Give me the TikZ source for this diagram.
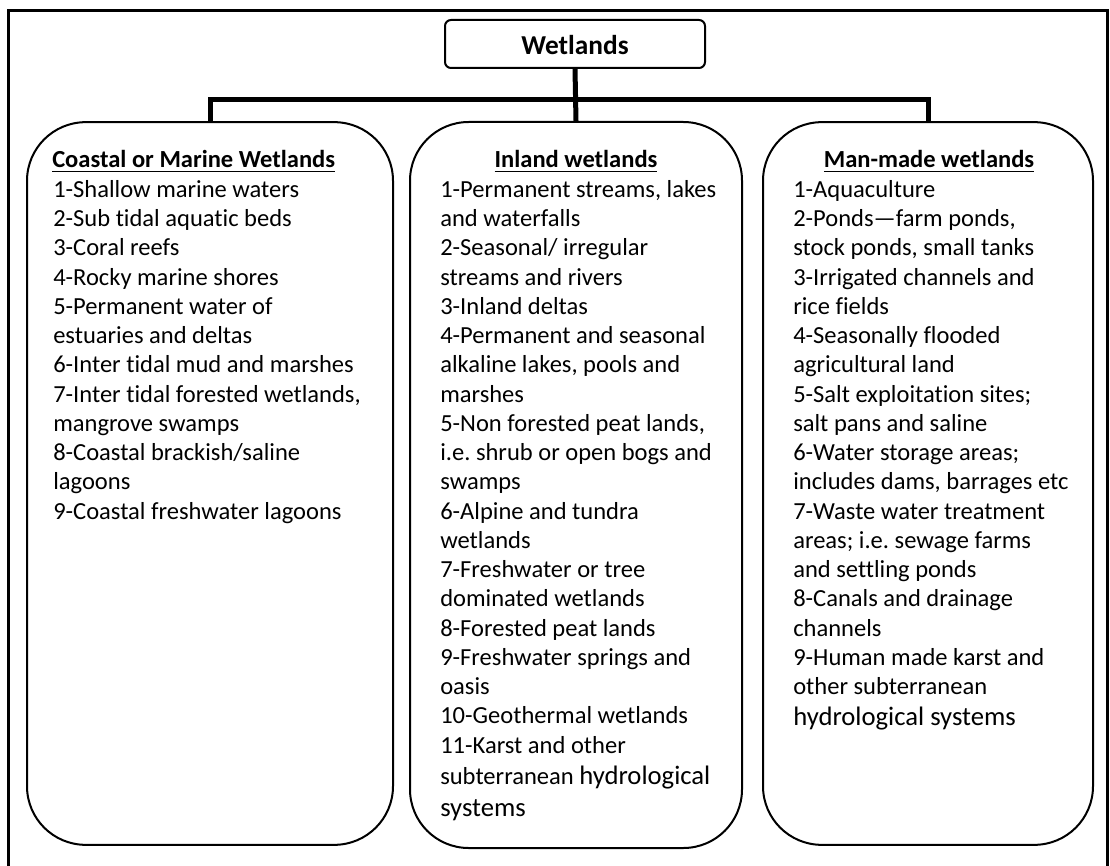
\documentclass[tikz,border=0pt]{standalone}
\usepackage{fontspec}
\setmainfont{Carlito}[Ligatures=NoCommon]
\usetikzlibrary{positioning}
\frenchspacing

% underlined heading with a heavier rule
\newcommand\ulhead[1]{\setbox0\hbox{#1}\rlap{\rule[-3.2pt]{\wd0}{1.3pt}}\box0}
\newcommand\bigword[1]{{\fontsize{20}{24}\selectfont #1}}

\begin{document}
\begin{tikzpicture}[x=0.75pt, y=0.75pt,
    frame/.style={line width=2.25pt},
    bus/.style={line width=3.75pt},
    rootbox/.style={draw, line width=1.5pt, rounded corners=4.5pt, minimum width=195pt, minimum height=36pt, inner sep=0pt},
    groupbox/.style={draw, line width=1.5pt, rounded corners=44pt, minimum height=542pt, inner sep=0pt},
    head/.style={font=\fontsize{18.4}{21.94}\selectfont\bfseries, inner sep=0pt, anchor=base},
    items/.style={font=\fontsize{18.4}{21.94}\selectfont, align=left, inner sep=0pt, anchor=north west}]

    % Fix the page
    \clip (0,0) rectangle (1110,-866);

    % Draw outer frame
    \draw[frame] (8,-11) rectangle (1107,-890);

    % Draw the root and the three groups
    \node[rootbox] (wet) at (575,-44) {};
    \node[head, font=\fontsize{20.5}{24}\selectfont\bfseries] (wet-text) at (575,-55) {Wetlands};

    \node[groupbox, minimum width=274.5pt] (coastal) at (210,-483.5) {};
    \node[groupbox, minimum width=249pt, minimum height=544.5pt] (inland) at (576,-485) {};
    \node[groupbox, minimum width=247.5pt] (manmade) at (928,-483.5) {};

    % Draw the connectors
    \draw[bus] (wet.south) -- (inland.north);
    \draw[bus] (coastal.north) -- ++(0,22) -| (manmade.north);

    % Coastal or marine wetlands
    \node[head, anchor=base west] (coastal-head) at (52,-168) {\ulhead{Coastal or Marine Wetlands}};
    \node[items] (coastal-list) at (53,-176.5) {\strut 1-Shallow marine waters\\
        2-Sub tidal aquatic beds\\
        3-Coral reefs\\
        4-Rocky marine shores\\
        5-Permanent water of\\
        estuaries and deltas\\
        6-Inter tidal mud and marshes\\
        7-Inter tidal forested wetlands,\\
        mangrove swamps\\
        8-Coastal brackish/saline\\
        lagoons\\
        9-Coastal freshwater lagoons};

    % Inland wetlands
    \node[head] (inland-head) at (576,-168) {\ulhead{Inland wetlands}};
    \node[items] (inland-list) at (440,-176.5) {\strut 1-Permanent streams, lakes\\
        and waterfalls\\
        2-Seasonal/ irregular\\
        streams and rivers\\
        3-Inland deltas\\
        4-Permanent and seasonal\\
        alkaline lakes, pools and\\
        marshes\\
        5-Non forested peat lands,\\
        i.e. shrub or open bogs and\\
        swamps\\
        6-Alpine and tundra\\
        wetlands\\
        7-Freshwater or tree\\
        dominated wetlands\\
        8-Forested peat lands\\
        9-Freshwater springs and\\
        oasis\\
        10-Geothermal wetlands\\
        11-Karst and other\\[2pt]
        subterranean \bigword{hydrological}\\[2pt]
        \bigword{systems}};

    % Man-made wetlands
    \node[head] (manmade-head) at (929,-168) {\ulhead{Man-made wetlands}};
    \node[items] (manmade-list) at (793,-176.5) {\strut 1-Aquaculture\\
        2-Ponds—farm ponds,\\
        stock ponds, small tanks\\
        3-Irrigated channels and\\
        rice fields\\
        4-Seasonally flooded\\
        agricultural land\\
        5-Salt exploitation sites;\\
        salt pans and saline\\
        6-Water storage areas;\\
        includes dams, barrages etc\\
        7-Waste water treatment\\
        areas; i.e. sewage farms\\
        and settling ponds\\
        8-Canals and drainage\\
        channels\\
        9-Human made karst and\\
        other subterranean\\[1.5pt]
        \bigword{hydrological systems}};
\end{tikzpicture}
\end{document}
